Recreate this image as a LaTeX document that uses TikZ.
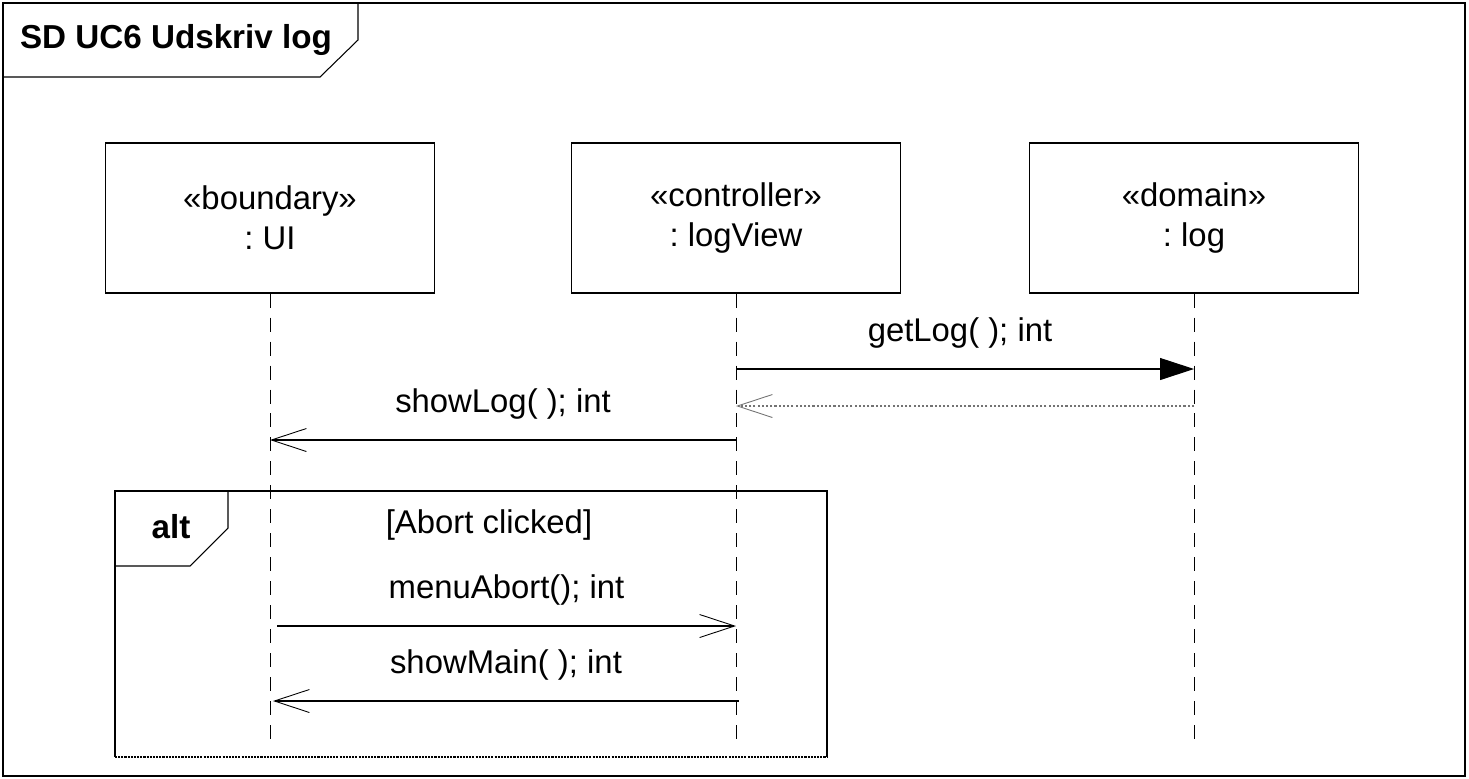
\documentclass[tikz,border=0pt]{standalone}
\usepackage{fontspec}
\setmainfont{Liberation Sans}
\frenchspacing
\usetikzlibrary{arrows.meta,calc,positioning}

\begin{document}
\begin{tikzpicture}[x=0.02cm,y=-0.02cm,line width=0.6pt,every node/.style={font=\fontsize{18.7}{22.7}\selectfont}]
    \tikzset{ObjStyle/.style= {draw,
        minimum width  = 6.58cm,
        minimum height = 3cm,
        align = center},
      LifeStyle/.style = {dash pattern=on 0.28cm off 0.2cm, line width=0.5pt},
      CallStyle/.style = {-{Triangle[length=0.68cm,width=0.44cm]}},
      MsgStyle/.style  = {-{Straight Barb[length=0.7cm,width=0.46cm,line width=0.5pt]}},
      ReplyStyle/.style = {MsgStyle, dash pattern=on 1.2pt off 1.2pt, draw=gray!90!black},
      LabelStyle/.style = {inner sep=0pt, above=0.4cm}}
    \useasboundingbox (0,0) rectangle (1469,778);

    % frame
    \draw (3,3) rectangle (1465,776);
    \draw (3,77) -- (320,77) -- (358,40) -- (358,3);
    \node[font=\fontsize{18.9}{22.7}\selectfont\bfseries] (title) at (176,40) {SD UC6 Udskriv log};

    % objects
    \node[ObjStyle] (ui)   at (270,218)  {«boundary»\\: UI};
    \node[ObjStyle] (ctrl) at (736,218)  {«controller»\\: logView};
    \node[ObjStyle] (dom)  at (1194,218) {«domain»\\: log};
    \coordinate (end) at (0,739);
    \draw[LifeStyle] (ui) -- (ui |- end);
    \draw[LifeStyle] (ctrl) -- (ctrl |- end);
    \draw[LifeStyle] (dom) -- (dom |- end);

    % messages
    \coordinate (m1) at (0,369);
    \coordinate (m2) at (0,406);
    \coordinate (m3) at (0,440);
    \coordinate (m4) at (0,626);
    \coordinate (m5) at (0,701);
    \draw[CallStyle] (ctrl |- m1) -- node[LabelStyle,xshift=-0.1cm] (getlog) {getLog( ); int} (dom |- m1);
    \draw[ReplyStyle] (dom |- m2) -- (ctrl |- m2);
    \draw[MsgStyle] (ctrl |- m3) -- node[LabelStyle] (showlog) {showLog( ); int} (ui |- m3);

    % alt fragment
    \draw (115,757) -- (115,491) -- (827,491) -- (827,757);
    \draw[dash pattern=on 1.2pt off 0.6pt, line width=1.1pt] (115,757) -- (827,757);
    \draw (228,491) -- (228,528) -- (190,566) -- (115,566);
    \node[font=\fontsize{18.9}{22.7}\selectfont\bfseries] (alt) at (171,527) {alt};
    \node (guard) at (489,525) {[Abort clicked]};
    \draw[MsgStyle] ([xshift=0.14cm]ui |- m4) -- node[LabelStyle] (abort) {menuAbort(); int} (ctrl |- m4);
    \draw[MsgStyle] ([xshift=0.06cm]ctrl |- m5) -- node[LabelStyle] (showmain) {showMain( ); int} ([xshift=0.06cm]ui |- m5);
\end{tikzpicture}
\end{document}
